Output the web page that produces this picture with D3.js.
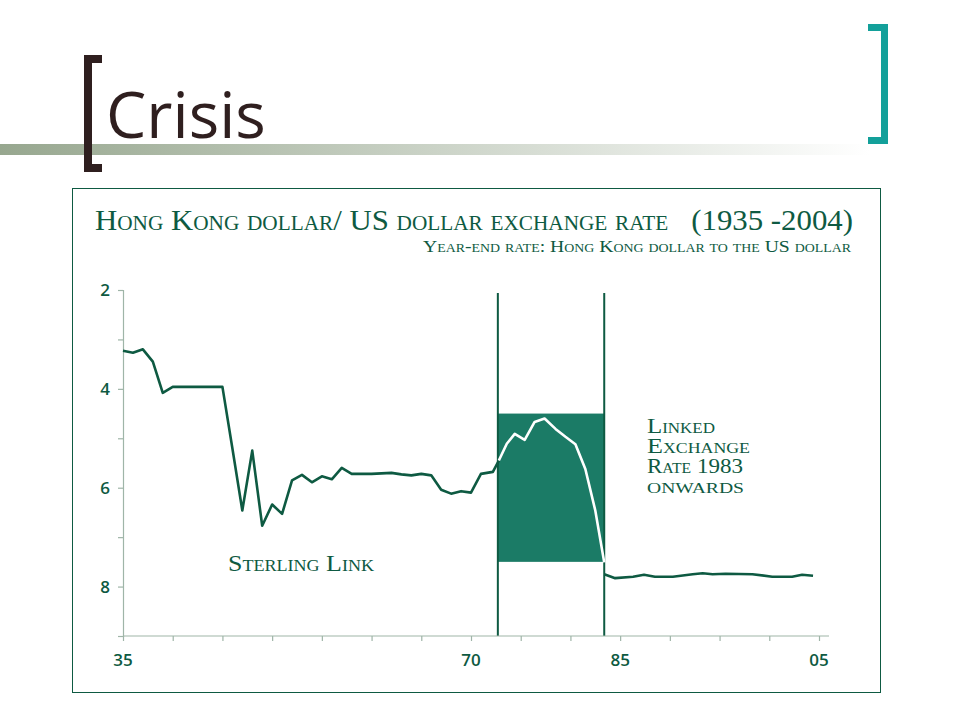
<!DOCTYPE html>
<html>
<head>
<meta charset="utf-8">
<script src="https://cdn.jsdelivr.net/npm/d3@7"></script>
<style>
  body { margin: 0; background: #fff; }
  .serif { font-family: 'Liberation Serif', 'DejaVu Serif', serif; font-variant: small-caps; }
</style>
</head>
<body>
<svg id="chart" width="960" height="720"></svg>
<script>
// Year-end HKD per USD
const sterlingYears = [1935, 1936, 1937, 1938, 1939, 1940, 1941, 1942, 1943, 1944, 1945, 1946, 1947, 1948,
  1949, 1950, 1951, 1952, 1953, 1954, 1955, 1956, 1957, 1958, 1959, 1960, 1961, 1962, 1963, 1964,
  1965, 1966, 1967, 1968, 1969, 1970, 1971, 1972.2, 1972.8];
const sterlingRates = [3.23, 3.27, 3.2, 3.45, 4.08, 3.96, 3.96, 3.96, 3.96, 3.96, 3.96, 5.2, 6.46, 5.25,
  6.77, 6.34, 6.53, 5.85, 5.74, 5.89, 5.77, 5.83, 5.6, 5.72, 5.72, 5.72, 5.71, 5.7, 5.73, 5.75,
  5.72, 5.75, 6.04, 6.12, 6.07, 6.1, 5.72, 5.68, 5.45];
const floatYears = [1972.8, 1973.6, 1974.4, 1975.4, 1976.4, 1977.4, 1978.5, 1979.5, 1980.5, 1981.5, 1982.5, 1983.4];
const floatRates = [5.45, 5.11, 4.91, 5.03, 4.67, 4.6, 4.81, 4.97, 5.12, 5.62, 6.46, 7.51];
const linkedYears = [1983.4, 1984.5, 1986.3, 1987.4, 1988.5, 1990.3, 1992.3, 1993.3, 1994.3, 1995.6,
  1998.3, 2000.3, 2002.3, 2003.3, 2004.4];
const linkedRates = [7.75, 7.83, 7.8, 7.76, 7.8, 7.8, 7.75, 7.73, 7.75, 7.74, 7.75, 7.8, 7.8, 7.76, 7.78];
const xTickYears = d3.range(1935, 2006, 5);
const xTickLabels = { 1935: '35', 1970: '70', 1985: '85', 2005: '05' };
const yTicks = [2, 3, 4, 5, 6, 7, 8, 9];
const floatBand = { from: 1972.7, to: 1983.4, top: 4.5, bottom: 7.5 };

const dark = '#0e5a42';
const fill = '#1b7b66';
const axisCol = '#9fb5a8';

const svg = d3.select('#chart');

// slide header
const grad = svg.append('defs').append('linearGradient').attr('id', 'bar');
grad.append('stop').attr('offset', '0%').attr('stop-color', '#97a78f');
grad.append('stop').attr('offset', '100%').attr('stop-color', '#fff');
svg.append('rect').attr('x', 0).attr('y', 144).attr('width', 870).attr('height', 11).attr('fill', 'url(#bar)');

const brown = '#2f1f1f';
svg.append('path')
  .attr('d', 'M102,55 H84 V172 H102 V164 H92 V63 H102 Z')
  .attr('fill', brown);
svg.append('path')
  .attr('d', 'M868,24 H888 V144 H868 V137 H881 V31 H868 Z')
  .attr('fill', '#13a09a');
svg.append('text').attr('x', 106).attr('y', 138)
  .attr('font-family', "'Open Sans', 'DejaVu Sans', sans-serif")
  .attr('font-size', 64).attr('fill', brown).text('Crisis');

// chart frame
svg.append('rect').attr('x', 72.5).attr('y', 188.5).attr('width', 808).attr('height', 504)
  .attr('fill', 'none').attr('stroke', dark).attr('stroke-width', 1);

svg.append('text').attr('class', 'serif').attr('x', 95).attr('y', 230)
  .attr('font-size', 29).attr('fill', dark)
  .attr('textLength', 758).attr('lengthAdjust', 'spacingAndGlyphs')
  .text('Hong Kong dollar/ US dollar exchange rate\u00a0\u00a0\u00a0(1935 -2004)');
svg.append('text').attr('class', 'serif').attr('x', 423).attr('y', 252)
  .attr('font-size', 17).attr('fill', dark)
  .attr('textLength', 428).attr('lengthAdjust', 'spacingAndGlyphs')
  .text('Year-end rate: Hong Kong dollar to the US dollar');

const x = d3.scaleLinear().domain([1935, 2005]).range([123, 819]);
const y = d3.scaleLinear().domain([2, 9]).range([290, 636]);

const g = svg.append('g');

// float band
g.append('rect')
  .attr('x', x(floatBand.from)).attr('y', y(floatBand.top))
  .attr('width', x(floatBand.to) - x(floatBand.from))
  .attr('height', y(floatBand.bottom) - y(floatBand.top))
  .attr('fill', fill);
[floatBand.from, floatBand.to].forEach((yr) => {
  g.append('line').attr('x1', x(yr)).attr('x2', x(yr))
    .attr('y1', y(2.06)).attr('y2', y(9))
    .attr('stroke', dark).attr('stroke-width', 2);
});

// axes
const xAxis = g.append('g').attr('transform', `translate(0,${y(9)})`)
  .call(d3.axisBottom(x).tickValues(xTickYears).tickSize(5).tickFormat(() => ''));
xAxis.select('.domain').attr('d', `M${x(1935)},0H${x(2005) + 10}`);
const yAxis = g.append('g').attr('transform', `translate(${x(1935)},0)`)
  .call(d3.axisLeft(y).tickValues(yTicks).tickSize(5).tickFormat(() => ''));
[xAxis, yAxis].forEach((a) => {
  a.selectAll('path,line').attr('stroke', axisCol).attr('stroke-width', 1.2);
});

const labelFont = "'Open Sans', 'DejaVu Sans', sans-serif";
g.selectAll('.xl').data(Object.keys(xTickLabels)).join('text')
  .attr('x', d => x(+d)).attr('y', y(9) + 30)
  .attr('text-anchor', 'middle').attr('font-family', labelFont).attr('font-weight', 600)
  .attr('font-size', 17).attr('fill', dark).text(d => xTickLabels[d]);
g.selectAll('.yl').data([2, 4, 6, 8]).join('text')
  .attr('x', 110).attr('y', d => y(d) + 6)
  .attr('text-anchor', 'end').attr('font-family', labelFont).attr('font-weight', 600)
  .attr('font-size', 17).attr('fill', dark).text(d => d);

// lines
const line = d3.line().x(d => x(d[0])).y(d => y(d[1]));
const series = [
  [d3.zip(sterlingYears, sterlingRates), dark],
  [d3.zip(floatYears, floatRates), '#fff'],
  [d3.zip(linkedYears, linkedRates), dark],
];
series.forEach(([pts, col]) => {
  g.append('path').attr('d', line(pts)).attr('fill', 'none')
    .attr('stroke', col).attr('stroke-width', 2.6).attr('stroke-linejoin', 'round');
});

// annotations
g.append('text').attr('class', 'serif').attr('x', 228).attr('y', 571)
  .attr('font-size', 23).attr('fill', dark)
  .attr('textLength', 146).attr('lengthAdjust', 'spacingAndGlyphs').text('Sterling Link');
const notes = [['Linked', 68], ['Exchange', 103], ['Rate 1983', 96], ['onwards', 97]];
notes.forEach(([t, w], i) => {
  g.append('text').attr('class', 'serif').attr('x', 647).attr('y', 433 + i * 20)
    .attr('font-size', 22).attr('fill', dark)
    .attr('textLength', w).attr('lengthAdjust', 'spacingAndGlyphs').text(t);
});
</script>
</body>
</html>
